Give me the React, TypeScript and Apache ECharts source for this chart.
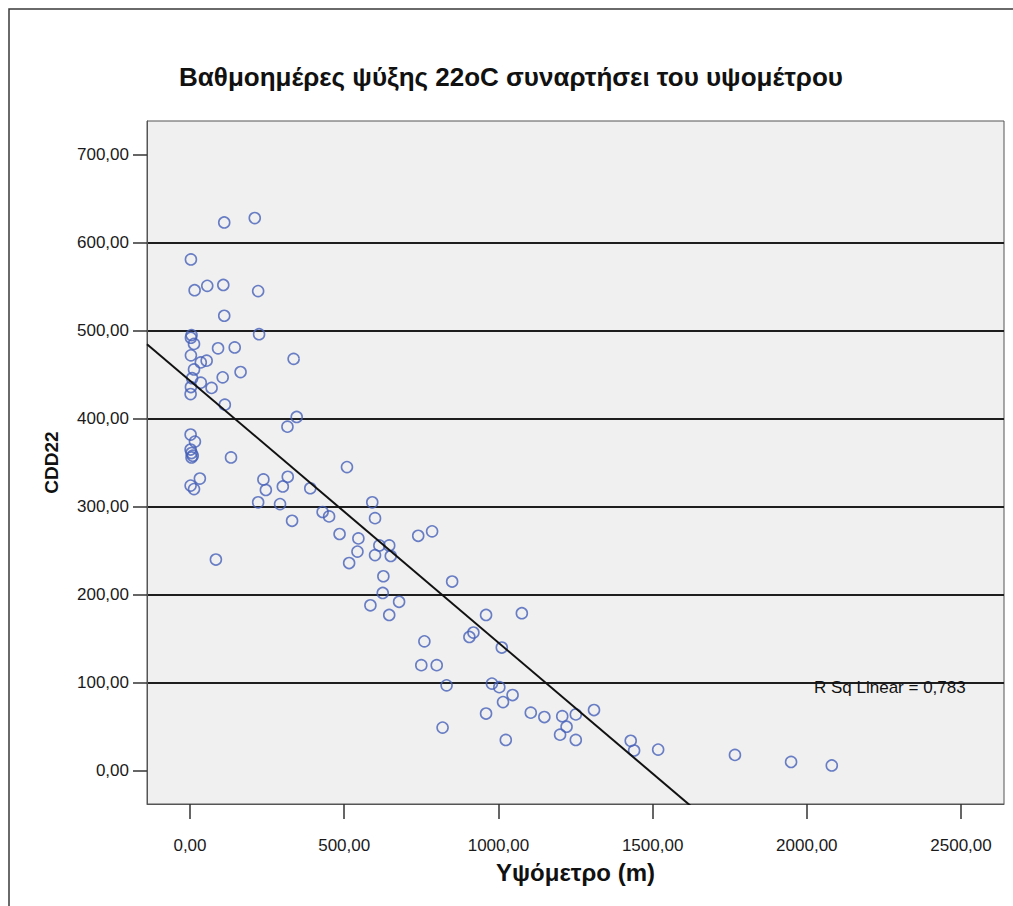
import React, { useEffect, useRef } from "react";
import * as echarts from "echarts";

const chartTitle = "Βαθμοημέρες ψύξης 22oC συναρτήσει του υψομέτρου";
const xAxisName = "Υψόμετρο (m)";
const yAxisName = "CDD22";
const xTicks = [0, 500, 1000, 1500, 2000, 2500];
const yTicks = [0, 100, 200, 300, 400, 500, 600, 700];

const altitude = [
  111, 210, 3, 15, 56, 108, 221, 111, 5, 3, 224, 13, 3, 91, 145, 54, 35, 336, 13, 164,
  106, 7, 35, 70, 3, 2, 113, 346, 316, 2, 16, 2, 5, 5, 9, 133, 509, 32, 2, 13,
  238, 317, 246, 301, 390, 221, 292, 591, 331, 430, 451, 600, 485, 546, 543, 516, 614, 646, 600, 651,
  740, 785, 84, 627, 850, 625, 585, 678, 646, 960, 1076, 919, 906, 1011, 760, 750, 800, 832, 979, 1003,
  1046, 1015, 960, 1105, 1149, 1207, 1251, 1310, 1221, 1200, 1251, 819, 1024, 1429, 1440, 1518, 1767, 1949, 2081,
];
const cdd22 = [
  623, 628, 581, 546, 551, 552, 545, 517, 495, 492, 496, 485, 472, 480, 481, 466, 464, 468, 456, 453,
  447, 446, 441, 435, 436, 428, 416, 402, 391, 382, 374, 365, 361, 356, 358, 356, 345, 332, 324, 320,
  331, 334, 319, 323, 321, 305, 303, 305, 284, 294, 289, 287, 269, 264, 249, 236, 256, 256, 245, 244,
  267, 272, 240, 221, 215, 202, 188, 192, 177, 177, 179, 157, 152, 140, 147, 120, 120, 97, 99, 95,
  86, 78, 65, 66, 61, 62, 64, 69, 50, 41, 35, 49, 35, 34, 23, 24, 18, 10, 6,
];

const regIntercept = 443.2;
const regSlope = -0.2976;
const regX = [-139.4, 1700];
const rSquaredLabel = "R Sq Linear = 0,783";

const FONT = "'Liberation Sans', Arial, sans-serif";
const fmt = (v: number) => v.toFixed(2).replace(".", ",");

export default function App() {
  const ref = useRef<HTMLDivElement>(null);
  useEffect(() => {
    if (!ref.current) return;
    const chart = echarts.init(ref.current, undefined, { renderer: "svg" });
    chart.setOption({
      animation: false,
      backgroundColor: "#ffffff",
      textStyle: { fontFamily: FONT },
      graphic: [
        {
          type: "rect",
          shape: { x: 9, y: 9, width: 1100, height: 1000 },
          style: { fill: "none", stroke: "#3a3a3a", lineWidth: 1.5 },
          silent: true,
        },
        {
          type: "text",
          x: 511,
          y: 77,
          style: {
            text: chartTitle,
            align: "center",
            verticalAlign: "middle",
            fontSize: 26,
            fontWeight: "bold",
            fontFamily: FONT,
            fill: "#111",
          },
        },
        {
          type: "text",
          x: 814,
          y: 687,
          z: 10,
          style: {
            text: rSquaredLabel,
            align: "left",
            verticalAlign: "middle",
            fontSize: 17,
            fontFamily: FONT,
            fill: "#111",
          },
        },
      ],
      grid: {
        left: 147,
        top: 121,
        right: 9,
        bottom: 102,
        show: true,
        backgroundColor: "#f0f0f0",
        borderColor: "#555",
        borderWidth: 1,
      },
      xAxis: {
        type: "value",
        min: -139.4,
        max: 2639.4,
        splitNumber: 6,
        name: xAxisName,
        nameLocation: "middle",
        nameGap: 56,
        nameTextStyle: { fontSize: 24, fontWeight: "bold", color: "#111", fontFamily: FONT },
        axisLine: { show: true, onZero: false, lineStyle: { color: "#555", width: 1 } },
        axisTick: { show: true, length: 15, customValues: xTicks, lineStyle: { color: "#333", width: 1.5 } },
        axisLabel: { customValues: xTicks, formatter: fmt, margin: 33, fontSize: 17, color: "#1a1a1a", fontFamily: FONT },
        splitLine: { show: false },
      },
      yAxis: {
        type: "value",
        min: -37.8,
        max: 738.3,
        splitNumber: 8,
        name: yAxisName,
        nameLocation: "middle",
        nameGap: 86,
        nameTextStyle: { fontSize: 19, fontWeight: "bold", color: "#111", fontFamily: FONT },
        axisLine: { show: true, onZero: false, lineStyle: { color: "#555", width: 1 } },
        axisTick: { show: true, length: 14, customValues: yTicks, lineStyle: { color: "#333", width: 1.5 } },
        axisLabel: { customValues: yTicks, formatter: fmt, margin: 18, fontSize: 17, color: "#1a1a1a", fontFamily: FONT },
        splitLine: {
          show: true,
          showMinLine: false,
          showMaxLine: false,
          lineStyle: { color: "#1e1e1e", width: 2 },
        },
      },
      series: [
        {
          type: "scatter",
          data: altitude.map((x, i) => [x, cdd22[i]]),
          symbol: "circle",
          symbolSize: 11,
          itemStyle: { color: "rgba(0,0,0,0)", borderColor: "#4660b8", borderWidth: 1.6 },
          emphasis: { disabled: true },
          z: 3,
        },
        {
          type: "line",
          data: regX.map((x) => [x, regIntercept + regSlope * x]),
          symbol: "none",
          clip: true,
          lineStyle: { color: "#111", width: 2 },
          emphasis: { disabled: true },
          z: 4,
        },
      ],
    });
    return () => chart.dispose();
  }, []);
  return (
    <div
      ref={ref}
      style={{ position: "fixed", left: 0, top: 0, width: 1013, height: 906 }}
    />
  );
}
